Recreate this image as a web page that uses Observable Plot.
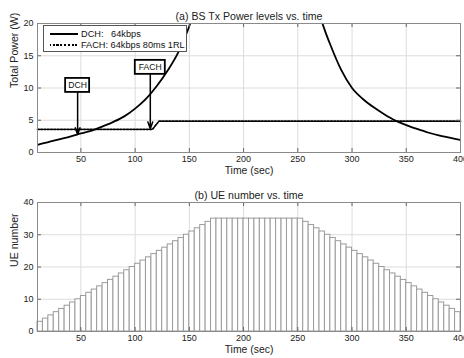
<!DOCTYPE html>
<html>
<head>
<meta charset="utf-8">
<script src="https://cdn.jsdelivr.net/npm/d3@7"></script>
<script src="https://cdn.jsdelivr.net/npm/@observablehq/plot@0.6"></script>
<style>
  body { margin: 0; background: #fff; }
  #wrap { position: relative; width: 464px; height: 358px; overflow: hidden; font-family: "Liberation Sans", Arial, sans-serif; }
  #top, #bot { position: absolute; left: 0; }
  #top { top: 0; }
  #bot { top: 180px; }
  .legend { position: absolute; left: 43px; top: 25px; width: 144px; height: 27px; border: 1px solid #555; background: #fff; box-sizing: border-box; font-size: 9.2px; color: #111; }
  .legend .sw { position: absolute; left: 6px; width: 28px; height: 0; border-top: 2px solid #000; }
  .legend .sw.dot { border-top: 2px dashed #000; border-image: repeating-linear-gradient(90deg, #000 0 2px, transparent 2px 3.5px) 1; }
  .legend .lt { position: absolute; left: 37px; white-space: pre; line-height: 10px; }
</style>
</head>
<body>
<div id="wrap">
  <div id="top"></div>
  <div id="bot"></div>
  <div class="legend">
    <div class="sw" style="top:7px"></div><div class="lt" style="top:3px">DCH:   64kbps</div>
    <div class="sw dot" style="top:18px"></div><div class="lt" style="top:14px">FACH: 64kbps 80ms 1RL</div>
  </div>
</div>
<script>
// ---- data ----
const xTicks = [50, 100, 150, 200, 250, 300, 350, 400];
const powerTicks = [0, 5, 10, 15, 20];
const ueTicks = [0, 10, 20, 30, 40];

const titleA = "(a) BS Tx Power levels vs. time";
const titleB = "(b) UE number vs. time";
const xLabel = "Time (sec)";
const yLabelA = "Total Power (W)";
const yLabelB = "UE number";

// DCH total power (rising branch and falling branch)
const dchUpT = [10, 20, 30, 40, 50, 60, 70, 80, 90, 100, 110, 120, 130, 140, 145, 150, 155];
const dchUpP = [1.2, 1.6, 2.05, 2.45, 2.95, 3.4, 4.05, 4.75, 5.6, 6.8, 8.3, 10.3, 12.7, 15.6, 17.5, 19.6, 22.5];
const dchDownT = [265, 270, 275, 280, 290, 300, 310, 320, 330, 340, 350, 360, 370, 380, 390, 400];
const dchDownP = [25, 21.5, 18.9, 16.7, 12.8, 10.0, 8.3, 7.0, 5.9, 4.95, 4.25, 3.65, 3.1, 2.65, 2.3, 1.95];

// FACH total power
const fachT = [10, 116, 122, 400];
const fachP = [3.6, 3.6, 4.85, 4.85];

// annotations
const annLabels = ["DCH", "FACH"];
const annT = [47, 114];
const annBoxP = [10.4, 13.2];
const annTipP = [2.8, 3.7];

// UE number bars (bin edges and counts)
const ueEdges = [10, 15, 20, 25, 30, 35, 40, 45, 50, 55, 60, 65, 70, 75, 80, 85, 90, 95, 100,
  105, 110, 115, 120, 125, 130, 135, 140, 145, 150, 155, 160, 165, 170, 175, 180, 185, 190, 195, 200,
  205, 210, 215, 220, 225, 230, 235, 240, 245, 250, 255, 260, 265, 270, 275, 280, 285, 290, 295, 300,
  305, 310, 315, 320, 325, 330, 335, 340, 345, 350, 355, 360, 365, 370, 375, 380, 385, 390, 395, 400];
const ueCount = [3, 4, 5, 6, 7, 8, 9, 10, 11, 12, 13, 14, 15, 16, 17, 18, 19, 20, 21, 22, 23, 24, 25,
  26, 27, 28, 29, 30, 31, 32, 33, 34, 35,
  35, 35, 35, 35, 35, 35, 35, 35, 35, 35, 35, 35, 35, 35, 35, 35,
  34, 33, 32, 31, 30, 29, 28, 27, 26, 25, 24, 23, 22, 21, 20, 19, 18, 17, 16, 15, 14, 13, 12, 11, 10, 9, 8, 7, 6];

// ---- tables ----
const dchUp = dchUpT.map((t, i) => ({t, p: dchUpP[i]}));
const dchDown = dchDownT.map((t, i) => ({t, p: dchDownP[i]}));
const fach = fachT.map((t, i) => ({t, p: fachP[i]}));
const ann = annLabels.map((label, i) => ({label, t: annT[i], box: annBoxP[i], tip: annTipP[i]}));
const ue = ueCount.map((n, i) => ({t0: ueEdges[i], t1: ueEdges[i + 1], n}));

const W = 464;
const font = "'Liberation Sans', Arial, sans-serif";
const txt = "#222";
const gridColor = "#dcdcdc";
const frameColor = "#8a8a8a";

function grids(yT) {
  return [
    Plot.gridX(xTicks, {stroke: gridColor, strokeOpacity: 1}),
    Plot.gridY(yT, {stroke: gridColor, strokeOpacity: 1})
  ];
}
function ticksInward(ml, mr, mt, mb, h, yT) {
  const fw = W - ml - mr, fh = h - mt - mb;
  return [
    Plot.tickX(xTicks, {x: d => d, insetTop: fh - 4, stroke: "#666"}),
    Plot.tickX(xTicks, {x: d => d, insetBottom: fh - 4, stroke: "#666"}),
    Plot.tickY(yT, {y: d => d, insetRight: fw - 4, stroke: "#666"}),
    Plot.tickY(yT, {y: d => d, insetLeft: fw - 4, stroke: "#666"}),
    Plot.axisX(xTicks, {tickSize: 0, tickPadding: 3.5, label: null, fill: txt}),
    Plot.axisY(yT, {tickSize: 0, tickPadding: 4, label: null, fill: txt}),
    Plot.frame({stroke: frameColor})
  ];
}

// ---- top plot ----
{
  const ml = 37, mr = 4, mt = 23, mb = 28, h = 180;
  const chart = Plot.plot({
    width: W, height: h, marginLeft: ml, marginRight: mr, marginTop: mt, marginBottom: mb,
    style: {fontFamily: font, fontSize: "9px", color: txt, background: "transparent"},
    x: {domain: [10, 400]},
    y: {domain: [0, 20]},
    marks: [
      ...grids(powerTicks),
      Plot.line(fach, {x: "t", y: "p", stroke: "#000", strokeWidth: 1.7, strokeDasharray: "1.8,1.5"}),
      Plot.line(dchUp, {x: "t", y: "p", stroke: "#000", strokeWidth: 1.8, curve: "monotone-x", clip: true}),
      Plot.line(dchDown, {x: "t", y: "p", stroke: "#000", strokeWidth: 1.8, curve: "monotone-x", clip: true}),
      ...ticksInward(ml, mr, mt, mb, h, powerTicks),
      Plot.arrow(ann, {x1: "t", x2: "t", y1: "box", y2: "tip", stroke: "#000", strokeWidth: 1.5, headLength: 7, headAngle: 40, insetStart: 6}),
      Plot.rect(ann.filter(d => d.label === "DCH"), {x1: "t", x2: "t", y1: "box", y2: "box", insetLeft: -12, insetRight: -12, insetTop: -7, insetBottom: -7, fill: "#fff", stroke: "#000", strokeWidth: 1.8}),
      Plot.rect(ann.filter(d => d.label === "FACH"), {x1: "t", x2: "t", y1: "box", y2: "box", insetLeft: -15, insetRight: -15, insetTop: -7, insetBottom: -7, fill: "#fff", stroke: "#000", strokeWidth: 1.8}),
      Plot.text(ann, {x: "t", y: "box", text: "label", fontSize: 8.6, fill: "#111"}),
      Plot.text([titleA], {frameAnchor: "top", dy: -11, fontSize: 10.6, fill: txt}),
      Plot.text([xLabel], {frameAnchor: "bottom", dy: 21.5, fontSize: 10.4, fill: txt}),
      Plot.text([yLabelA], {frameAnchor: "left", dx: -23, rotate: -90, fontSize: 10.6, fill: txt})
    ]
  });
  document.getElementById("top").append(chart);
}

// ---- bottom plot ----
{
  const ml = 37, mr = 4, mt = 22, mb = 27, h = 178;
  const chart = Plot.plot({
    width: W, height: h, marginLeft: ml, marginRight: mr, marginTop: mt, marginBottom: mb,
    style: {fontFamily: font, fontSize: "9px", color: txt, background: "transparent"},
    x: {domain: [10, 400]},
    y: {domain: [0, 40]},
    marks: [
      ...grids(ueTicks),
      Plot.rect(ue, {x1: "t0", x2: "t1", y1: 0, y2: "n", fill: "#fff", stroke: "#9a9a9a", strokeWidth: 1}),
      ...ticksInward(ml, mr, mt, mb, h, ueTicks),
      Plot.text([titleB], {frameAnchor: "top", dy: -11.3, fontSize: 10.6, fill: txt}),
      Plot.text([xLabel], {frameAnchor: "bottom", dy: 21, fontSize: 10.4, fill: txt}),
      Plot.text([yLabelB], {frameAnchor: "left", dx: -23, rotate: -90, fontSize: 10.6, fill: txt})
    ]
  });
  document.getElementById("bot").append(chart);
}
</script>
</body>
</html>
